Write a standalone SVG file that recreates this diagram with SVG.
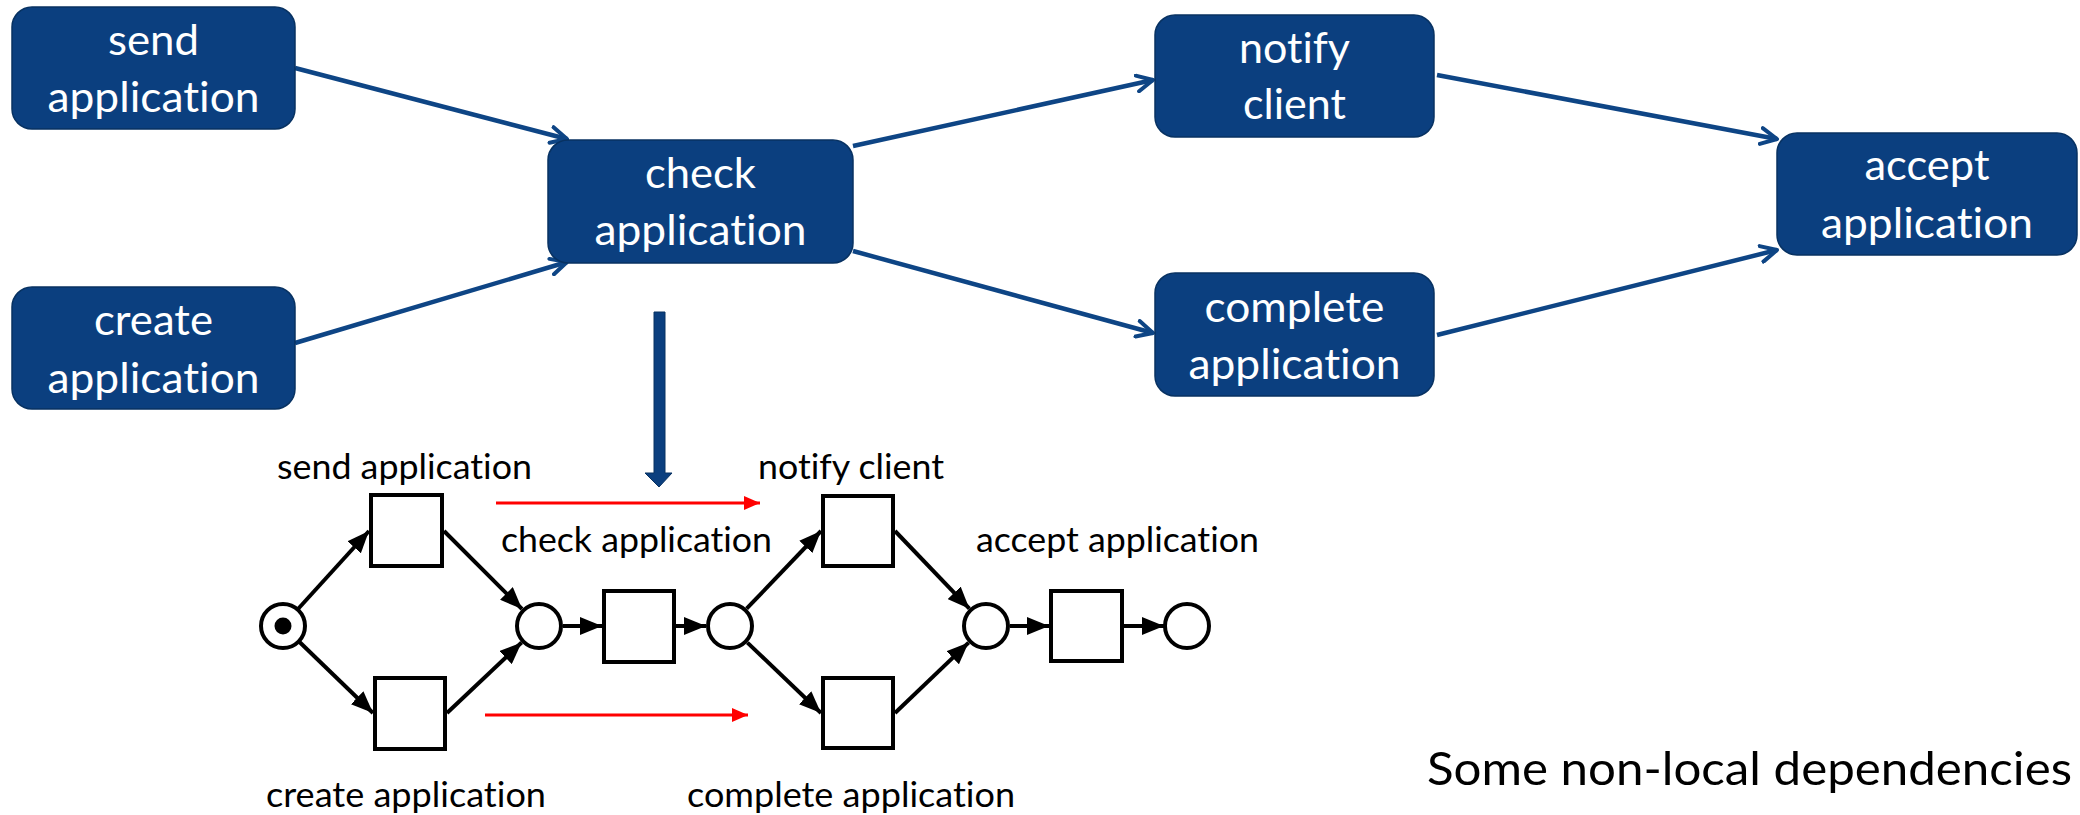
<svg xmlns="http://www.w3.org/2000/svg" width="2080" height="815" viewBox="0 0 2080 815">
  <style>
    text { font-variant-ligatures: none; font-feature-settings: "liga" 0, "clig" 0; }
    .node rect { fill: #0b3f7f; stroke: #083262; stroke-width: 1.5; }
    .node text { fill: #ffffff; font-family: Lato, "Liberation Sans", sans-serif; font-size: 42px; text-anchor: middle; }
    .flow { stroke: #0e4585; stroke-width: 4.5; fill: none; marker-end: url(#openArrow); }
    .arc { stroke: #000; stroke-width: 4; fill: none; marker-end: url(#solidArrow); }
    .dep { stroke: #ff0000; stroke-width: 3; fill: none; marker-end: url(#redArrow); }
    .place { fill: #fff; stroke: #000; stroke-width: 4; }
    .trans { fill: #fff; stroke: #000; stroke-width: 4; }
    .lbl { fill: #000; font-family: Lato, "Liberation Sans", sans-serif; font-size: 34px; }
    .caption { fill: #000; font-family: Lato, "Liberation Sans", sans-serif; font-size: 47px; }
  </style>
  <defs>
    <marker id="openArrow" viewBox="0 0 20 20" refX="18" refY="10" markerWidth="20" markerHeight="20" markerUnits="userSpaceOnUse" orient="auto">
      <path d="M2,2 L18,10 L2,18" fill="none" stroke="#0e4585" stroke-width="4" stroke-linecap="round" stroke-linejoin="round"/>
    </marker>
    <marker id="solidArrow" viewBox="0 0 22 18" refX="22" refY="9" markerWidth="22" markerHeight="18" markerUnits="userSpaceOnUse" orient="auto">
      <path d="M0,0 L22,9 L0,18 Z" fill="#000"/>
    </marker>
    <marker id="redArrow" viewBox="0 0 16 14" refX="16" refY="7" markerWidth="16" markerHeight="14" markerUnits="userSpaceOnUse" orient="auto">
      <path d="M0,0 L16,7 L0,14 Z" fill="#ff0000"/>
    </marker>
  </defs>

  <rect width="2080" height="815" fill="#ffffff"/>

  <!-- process-level connectors -->
  <g id="connectors">
    <line class="flow" x1="295" y1="68" x2="567" y2="139"/>
    <line class="flow" x1="295" y1="343" x2="567" y2="262"/>
    <line class="flow" x1="853" y1="146" x2="1153" y2="80"/>
    <line class="flow" x1="853" y1="251" x2="1153" y2="333"/>
    <line class="flow" x1="1437" y1="75" x2="1777" y2="139"/>
    <line class="flow" x1="1437" y1="335" x2="1777" y2="250"/>
  </g>

  <!-- activity nodes -->
  <g id="send-application" class="node">
    <rect x="12" y="7" width="283" height="122" rx="20"/>
    <text x="153.5" y="55" textLength="91" lengthAdjust="spacingAndGlyphs">send</text>
    <text x="153.5" y="112" textLength="212" lengthAdjust="spacingAndGlyphs">application</text>
  </g>
  <g id="create-application" class="node">
    <rect x="12" y="287" width="283" height="122" rx="20"/>
    <text x="153.5" y="335" textLength="119" lengthAdjust="spacingAndGlyphs">create</text>
    <text x="153.5" y="393" textLength="212" lengthAdjust="spacingAndGlyphs">application</text>
  </g>
  <g id="check-application" class="node">
    <rect x="548" y="140" width="305" height="123" rx="20"/>
    <text x="700.5" y="188" textLength="111" lengthAdjust="spacingAndGlyphs">check</text>
    <text x="700.5" y="245" textLength="212" lengthAdjust="spacingAndGlyphs">application</text>
  </g>
  <g id="notify-client" class="node">
    <rect x="1155" y="15" width="279" height="122" rx="20"/>
    <text x="1294.5" y="63" textLength="111" lengthAdjust="spacingAndGlyphs">notify</text>
    <text x="1294.5" y="119" textLength="103" lengthAdjust="spacingAndGlyphs">client</text>
  </g>
  <g id="complete-application" class="node">
    <rect x="1155" y="273" width="279" height="123" rx="20"/>
    <text x="1294.5" y="322" textLength="180" lengthAdjust="spacingAndGlyphs">complete</text>
    <text x="1294.5" y="379" textLength="212" lengthAdjust="spacingAndGlyphs">application</text>
  </g>
  <g id="accept-application" class="node">
    <rect x="1777" y="133" width="300" height="122" rx="20"/>
    <text x="1927" y="180" textLength="125" lengthAdjust="spacingAndGlyphs">accept</text>
    <text x="1927" y="238" textLength="212" lengthAdjust="spacingAndGlyphs">application</text>
  </g>

  <!-- block arrow down to the Petri net -->
  <g id="down-arrow">
    <path d="M654,312 L665,312 L665,473 L672,473 L659,487 L645,473 L654,473 Z" fill="#0b3f7f" stroke="#083262" stroke-width="1"/>
  </g>

  <!-- Petri net arcs -->
  <g id="petri-arcs">
    <line class="arc" x1="298" y1="609" x2="369" y2="531"/>
    <line class="arc" x1="299.5" y1="642" x2="373" y2="713"/>
    <line class="arc" x1="444" y1="531" x2="522" y2="609"/>
    <line class="arc" x1="447" y1="713" x2="521.6" y2="642.5"/>
    <line class="arc" x1="563" y1="626" x2="602" y2="626"/>
    <line class="arc" x1="676" y1="626" x2="706" y2="626"/>
    <line class="arc" x1="746.6" y1="608.7" x2="821" y2="531"/>
    <line class="arc" x1="747.4" y1="642.6" x2="821" y2="713"/>
    <line class="arc" x1="895" y1="531" x2="969.4" y2="608.7"/>
    <line class="arc" x1="895" y1="713" x2="968.6" y2="642.6"/>
    <line class="arc" x1="1010" y1="626" x2="1049" y2="626"/>
    <line class="arc" x1="1124" y1="626" x2="1164" y2="626"/>
  </g>

  <!-- non-local dependency hints -->
  <g id="dependencies">
    <line class="dep" x1="496" y1="503" x2="760" y2="503"/>
    <line class="dep" x1="485" y1="715" x2="748" y2="715"/>
  </g>

  <!-- places -->
  <g id="p-start">
    <circle class="place" cx="283" cy="626" r="22"/>
    <circle cx="283" cy="626" r="8.5" fill="#000"/>
  </g>
  <g id="p-joined"><circle class="place" cx="539" cy="626" r="22"/></g>
  <g id="p-checked"><circle class="place" cx="730" cy="626" r="22"/></g>
  <g id="p-ready"><circle class="place" cx="986" cy="626" r="22"/></g>
  <g id="p-end"><circle class="place" cx="1187" cy="626" r="22"/></g>

  <!-- transitions -->
  <g id="t-send"><rect class="trans" x="371" y="495" width="71" height="71"/></g>
  <g id="t-create"><rect class="trans" x="375" y="678" width="70" height="71"/></g>
  <g id="t-check"><rect class="trans" x="604" y="591" width="70" height="71"/></g>
  <g id="t-notify"><rect class="trans" x="823" y="496" width="70" height="70"/></g>
  <g id="t-complete"><rect class="trans" x="823" y="678" width="70" height="70"/></g>
  <g id="t-accept"><rect class="trans" x="1051" y="591" width="71" height="70"/></g>

  <!-- transition labels -->
  <g id="labels">
    <text class="lbl" x="277" y="479" textLength="255" lengthAdjust="spacingAndGlyphs">send application</text>
    <text class="lbl" x="501" y="552" textLength="271" lengthAdjust="spacingAndGlyphs">check application</text>
    <text class="lbl" x="266" y="807" textLength="280" lengthAdjust="spacingAndGlyphs">create application</text>
    <text class="lbl" x="758" y="479" textLength="186" lengthAdjust="spacingAndGlyphs">notify client</text>
    <text class="lbl" x="976" y="552" textLength="283" lengthAdjust="spacingAndGlyphs">accept application</text>
    <text class="lbl" x="687" y="807" textLength="328" lengthAdjust="spacingAndGlyphs">complete application</text>
  </g>

  <text class="caption" x="1427" y="785" textLength="645" lengthAdjust="spacingAndGlyphs">Some non-local dependencies</text>
</svg>
